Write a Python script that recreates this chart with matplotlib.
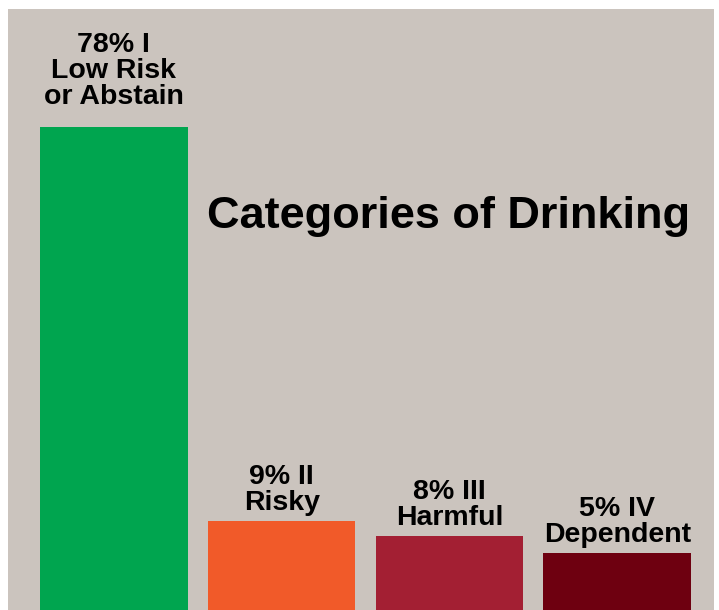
import matplotlib.pyplot as plt

plt.rcParams['font.family'] = ['Liberation Sans', 'DejaVu Sans']

# Data
categories = ["Low Risk\nor Abstain", "Risky", "Harmful", "Dependent"]
numerals = ["I", "II", "III", "IV"]
percents = [78, 9, 8, 5]
# the artist stretched the small bars, so drawn heights are not to scale
drawn_heights = [78, 14.4, 12.0, 9.2]
colors = ["#00a54f", "#f15a29", "#a31f33", "#6e0010"]

bg = "#cbc4be"

fig = plt.figure(figsize=(7.19, 6.10), dpi=100)
fig.patch.set_facecolor("white")

ax = fig.add_axes([8 / 719, 0, 706 / 719, 601 / 610])
ax.set_facecolor(bg)
for s in ax.spines.values():
    s.set_visible(False)
ax.set_xticks([])
ax.set_yticks([])

x = range(len(categories))
ax.bar(x, drawn_heights, width=0.88, color=colors)
ax.set_xlim(-0.631, 3.577)
ax.set_ylim(0, 97.1)

# labels above the bars
for i, (cat, num, p, h) in enumerate(zip(categories, numerals, percents, drawn_heights)):
    label = f"{p}% {num}\n{cat}"
    offset = 12.5 if i == 0 else 3.5
    ax.annotate(label, (i, h), xytext=(0, offset), textcoords="offset points",
                ha="center", va="bottom", fontsize=20.5, fontweight="bold",
                linespacing=1.0, color="black")

fig.text(449 / 719, 1 - 228 / 610, "Categories of Drinking", ha="center",
         va="baseline", fontsize=32.5, fontweight="bold", color="black")

plt.savefig("out.png", dpi=100, facecolor=fig.get_facecolor())
